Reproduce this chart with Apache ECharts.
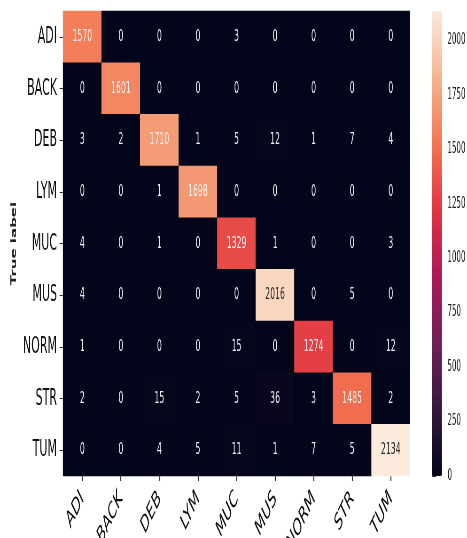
<!DOCTYPE html>
<html>
<head>
<meta charset="utf-8">
<script src="https://cdn.jsdelivr.net/npm/echarts@6/dist/echarts.min.js"></script>
<style>
  html, body { margin: 0; padding: 0; overflow: hidden; background: #ffffff; }
  #frame { width: 467px; height: 538px; overflow: hidden; position: relative; }
  /* the figure is laid out wide and squeezed horizontally */
  #chart { width: 994px; height: 538px; transform: scaleX(0.469819); transform-origin: 0 0; }
</style>
</head>
<body>
<div id="frame"><div id="chart"></div></div>
<script>
// class names (predicted on x, true on y)
const categories = ['ADI', 'BACK', 'DEB', 'LYM', 'MUC', 'MUS', 'NORM', 'STR', 'TUM'];

// confusion-matrix counts, one array per true label
const rowADI  = [1570, 0, 0, 0, 3, 0, 0, 0, 0];
const rowBACK = [0, 1601, 0, 0, 0, 0, 0, 0, 0];
const rowDEB  = [3, 2, 1710, 1, 5, 12, 1, 7, 4];
const rowLYM  = [0, 0, 1, 1698, 0, 0, 0, 0, 0];
const rowMUC  = [4, 0, 1, 0, 1329, 1, 0, 0, 3];
const rowMUS  = [4, 0, 0, 0, 0, 2016, 0, 5, 0];
const rowNORM = [1, 0, 0, 0, 15, 0, 1274, 0, 12];
const rowSTR  = [2, 0, 15, 2, 5, 36, 3, 1485, 2];
const rowTUM  = [0, 0, 4, 5, 11, 1, 7, 5, 2134];

// colour bar tick values
const colorbarTicks = [0, 250, 500, 750, 1000, 1250, 1500, 1750, 2000];

const rows = [rowADI, rowBACK, rowDEB, rowLYM, rowMUC, rowMUS, rowNORM, rowSTR, rowTUM];
const maxValue = Math.max(...rows.map(r => Math.max(...r)));

// horizontal squeeze applied to the chart element
const SX = 467 / 994;
const px = v => v / SX;

// "rocket" colour map
const rocket = ['#03051A', '#35193E', '#701F57', '#AD1759', '#E13342', '#F37651', '#F6B48F', '#FAEBDD'];

const FONT = 'DejaVu Sans';

const cells = [];
rows.forEach((row, yi) => {
  row.forEach((v, xi) => {
    const light = v / maxValue > 0.88;
    cells.push({
      value: [xi, yi, v],
      label: { color: light ? '#262626' : '#f2f2f2' }
    });
  });
});

const chart = echarts.init(document.getElementById('chart'), null, { renderer: 'canvas' });

chart.setOption({
  backgroundColor: '#ffffff',
  animation: false,
  grid: [
    {
      left: px(63), top: 11, width: px(347), height: 465,
      outerBoundsMode: 'none', containLabel: false,
      show: true, backgroundColor: rocket[0], borderWidth: 0
    },
    { left: px(432), top: 11, width: px(10), height: 465, outerBoundsMode: 'none', containLabel: false }
  ],
  xAxis: [
    {
      type: 'category',
      gridIndex: 0,
      data: categories,
      axisLine: { show: false },
      axisTick: { show: true, alignWithLabel: true, length: 5, lineStyle: { color: '#333333', width: px(1) } },
      axisLabel: { rotate: 45, fontSize: 24, fontFamily: FONT, color: '#111111', margin: 19 },
      splitLine: { show: false }
    },
    { type: 'value', gridIndex: 1, show: false, min: 0, max: 1 }
  ],
  yAxis: [
    {
      type: 'category',
      gridIndex: 0,
      data: categories,
      inverse: true,
      name: 'True label',
      nameLocation: 'middle',
      nameGap: px(45),
      nameRotate: 90,
      nameTextStyle: { fontSize: 15, fontWeight: 'bold', fontFamily: FONT, color: '#222222' },
      axisLine: { show: false },
      axisTick: { show: true, alignWithLabel: true, length: px(3.5), lineStyle: { color: '#333333', width: 1 } },
      axisLabel: { fontSize: 23.5, fontFamily: FONT, color: '#111111', margin: px(6) },
      splitLine: { show: false }
    },
    {
      type: 'value',
      gridIndex: 1,
      position: 'right',
      min: 0,
      max: maxValue,
      axisLine: { show: false },
      axisTick: { show: true, length: px(4), customValues: colorbarTicks, lineStyle: { color: '#333333', width: px(1) } },
      axisLabel: {
        fontSize: 15, fontFamily: FONT, color: '#222222', margin: px(5.5),
        customValues: colorbarTicks,
        formatter: v => String(v)
      },
      splitLine: { show: false }
    }
  ],
  visualMap: {
    type: 'continuous',
    min: 0,
    max: maxValue,
    seriesIndex: 0,
    calculable: false,
    hoverLink: false,
    orient: 'vertical',
    left: px(432),
    top: 11,
    padding: 0,
    itemWidth: px(10),
    itemHeight: 465,
    text: null,
    inRange: { color: rocket }
  },
  series: [
    {
      type: 'heatmap',
      xAxisIndex: 0,
      yAxisIndex: 0,
      data: cells,
      label: { show: true, fontSize: 16.5, fontFamily: FONT },
      itemStyle: { borderWidth: 0 },
      emphasis: { disabled: true }
    }
  ]
});
</script>
</body>
</html>
